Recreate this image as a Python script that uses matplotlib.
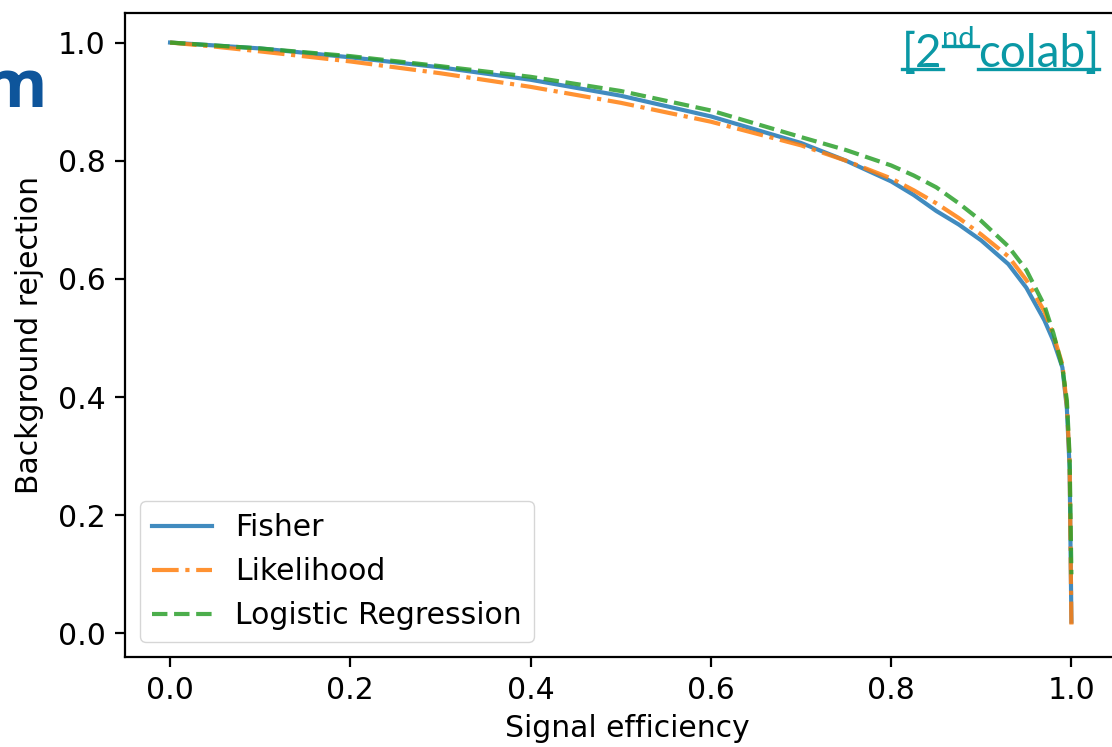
import matplotlib
matplotlib.use("Agg")
import matplotlib.pyplot as plt
from matplotlib.lines import Line2D

# signal efficiency grid
efficiency = [0.0, 0.05, 0.1, 0.2, 0.3, 0.4, 0.5, 0.6, 0.7, 0.75, 0.8, 0.825, 0.85, 0.875, 0.9,
              0.93, 0.95, 0.97, 0.98, 0.99, 0.995, 0.998, 1.0]

# background rejection per classifier
fisher = [1.0, 0.995, 0.99, 0.975, 0.958, 0.937, 0.91, 0.875, 0.83, 0.8, 0.765, 0.742, 0.715, 0.692, 0.665,
          0.625, 0.585, 0.53, 0.495, 0.45, 0.38, 0.28, 0.02]
likelihood = [1.0, 0.993, 0.985, 0.968, 0.948, 0.925, 0.898, 0.866, 0.826, 0.8, 0.77, 0.75, 0.728, 0.703, 0.675,
              0.638, 0.598, 0.545, 0.505, 0.455, 0.385, 0.29, 0.015]
logistic = [1.0, 0.995, 0.99, 0.977, 0.96, 0.942, 0.918, 0.885, 0.84, 0.818, 0.792, 0.775, 0.755, 0.728, 0.698,
            0.655, 0.615, 0.555, 0.508, 0.45, 0.394, 0.3, 0.1]

labels = ["Fisher", "Likelihood", "Logistic Regression"]

plt.rcParams["font.size"] = 21.5
plt.rcParams["lines.linewidth"] = 3
plt.rcParams["axes.linewidth"] = 1.6
for ax_name in ("xtick", "ytick"):
    plt.rcParams[f"{ax_name}.major.size"] = 7
    plt.rcParams[f"{ax_name}.major.width"] = 1.6
    plt.rcParams[f"{ax_name}.major.pad"] = 7

fig = plt.figure(figsize=(11.12, 7.47), dpi=100)
ax = fig.add_axes([125 / 1112, 90 / 747, 1005 / 1112, 644 / 747])

ax.plot(efficiency, fisher, "-", label=labels[0], alpha=0.85)
ax.plot(efficiency, likelihood, "-.", label=labels[1], alpha=0.85)
ax.plot(efficiency, logistic, "--", label=labels[2], alpha=0.85)

ax.set_xlim(-0.05, 1.065)
ax.set_ylim(-0.04, 1.05)
ax.spines["right"].set_visible(False)  # cut off by the screenshot
ax.set_xlabel("Signal efficiency", labelpad=6)
ax.set_ylabel("Background rejection", labelpad=10)
ax.legend(loc="lower left")

# slide leftovers: part of the title and the colab link
fig.text(47 / 1112, 1 - 107 / 747, "m", ha="right", va="baseline", fontsize=48,
         family="Open Sans", weight="bold", color="#0e559b")

link_color = "#0a98a5"
t1 = fig.text(902 / 1112, 1 - 67 / 747, "[2", fontsize=33, family="Lato", color=link_color,
              va="baseline")
fig.canvas.draw()
r = fig.canvas.get_renderer()
b1 = t1.get_window_extent(r)
t2 = fig.text(b1.x1 / 1112, 1 - 47 / 747, "nd", fontsize=21, family="Lato", color=link_color,
              va="baseline")
b2 = t2.get_window_extent(r)
t3 = fig.text((b2.x1 + 3) / 1112, 1 - 67 / 747, "colab]", fontsize=33, family="Lato",
              color=link_color, va="baseline")
b3 = t3.get_window_extent(r)
for x0, x1, y in [(b1.x0, b1.x1, 747 - 69), (b2.x0, b2.x1 + 3, 747 - 46), (b3.x0, b3.x1, 747 - 69)]:
    fig.add_artist(Line2D([x0 / 1112, x1 / 1112], [y / 747, y / 747], color=link_color,
                          lw=2.4, transform=fig.transFigure))

fig.savefig("out.png", dpi=100)
